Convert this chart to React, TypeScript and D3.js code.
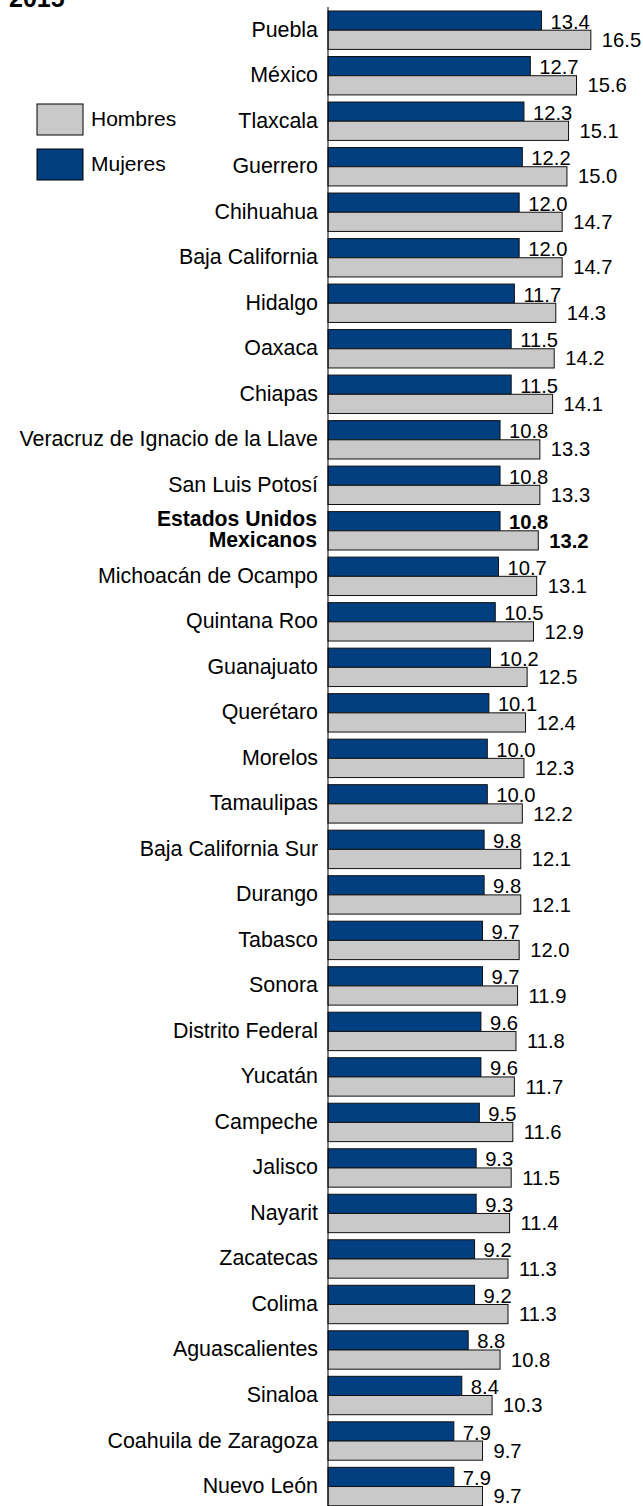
import React from "react";
import * as d3 from "d3";

const categories = [
  "Puebla", "México", "Tlaxcala", "Guerrero", "Chihuahua", "Baja California",
  "Hidalgo", "Oaxaca", "Chiapas", "Veracruz de Ignacio de la Llave", "San Luis Potosí",
  "Estados Unidos Mexicanos", "Michoacán de Ocampo", "Quintana Roo", "Guanajuato",
  "Querétaro", "Morelos", "Tamaulipas", "Baja California Sur", "Durango", "Tabasco",
  "Sonora", "Distrito Federal", "Yucatán", "Campeche", "Jalisco", "Nayarit",
  "Zacatecas", "Colima", "Aguascalientes", "Sinaloa", "Coahuila de Zaragoza", "Nuevo León",
];
const mujeres = [
  13.4, 12.7, 12.3, 12.2, 12.0, 12.0, 11.7, 11.5, 11.5, 10.8, 10.8, 10.8, 10.7, 10.5,
  10.2, 10.1, 10.0, 10.0, 9.8, 9.8, 9.7, 9.7, 9.6, 9.6, 9.5, 9.3, 9.3, 9.2, 9.2, 8.8,
  8.4, 7.9, 7.9,
];
const hombres = [
  16.5, 15.6, 15.1, 15.0, 14.7, 14.7, 14.3, 14.2, 14.1, 13.3, 13.3, 13.2, 13.1, 12.9,
  12.5, 12.4, 12.3, 12.2, 12.1, 12.1, 12.0, 11.9, 11.8, 11.7, 11.6, 11.5, 11.4, 11.3,
  11.3, 10.8, 10.3, 9.7, 9.7,
];
const seriesNames = ["Mujeres", "Hombres"];
const legendItems = ["Hombres", "Mujeres"];
const title = "2015";
const highlight = "Estados Unidos Mexicanos";

const W = 643;
const H = 1506;
const BLUE = "#023f80";
const GRAY = "#c9c9c9";
const FONT = "'Liberation Sans', Arial, Helvetica, sans-serif";

export default function App() {
  const axisX = 328;
  const pxPerUnit = 15.93;
  const x = d3.scaleLinear().domain([0, 16.5]).range([axisX, axisX + 16.5 * pxPerUnit]);
  const step = 45.51;
  const padIn = 1 - 38.4 / step;
  const top = 11;
  const y = d3
    .scaleBand<string>()
    .domain(categories)
    .range([top, top + step * (categories.length - padIn)])
    .paddingInner(padIn)
    .paddingOuter(0);
  const bw = y.bandwidth();
  const inner = d3.scaleBand<string>().domain(seriesNames).range([0, bw]).padding(0);
  const ih = inner.bandwidth();

  const colorOf: Record<string, string> = { Mujeres: BLUE, Hombres: GRAY };

  return (
    <svg
      width={W}
      height={H}
      style={{ position: "absolute", left: 0, top: 0, background: "#fff" }}
      fontFamily={FONT}
    >
      <rect x={0} y={0} width={W} height={H} fill="#fff" />
      <text x={9} y={7} fontSize={25} fontWeight="bold" fill="#000">
        {title}
      </text>

      {/* legend */}
      {legendItems.map((name, i) => {
        const ly = 104 + i * 45;
        return (
          <g key={name}>
            <rect x={37} y={ly} width={46} height={31} fill={colorOf[name]} stroke="#000" strokeWidth={1} />
            <text x={91} y={ly + 22} fontSize={21} fill="#000">
              {name}
            </text>
          </g>
        );
      })}

      {categories.map((cat, i) => {
        const by = y(cat)!;
        const isHL = cat === highlight;
        const vals: Record<string, number> = { Mujeres: mujeres[i], Hombres: hombres[i] };
        const center = by + bw / 2;
        return (
          <g key={cat}>
            {isHL ? (
              <text x={axisX - 11} textAnchor="end" fontSize={21.2} fontWeight="bold" fill="#000">
                <tspan x={axisX - 11} y={center - 5}>Estados Unidos</tspan>
                <tspan x={axisX - 11} y={center + 16}>Mexicanos</tspan>
              </text>
            ) : (
              <text x={axisX - 10} y={center + 6.5} textAnchor="end" fontSize={21.4} fill="#000">
                {cat}
              </text>
            )}
            {seriesNames.map((s) => {
              const sy = by + inner(s)!;
              const v = vals[s];
              return (
                <g key={s}>
                  <rect
                    x={x(0)}
                    y={sy}
                    width={x(v) - x(0)}
                    height={ih}
                    fill={colorOf[s]}
                    stroke="#111"
                    strokeWidth={1}
                  />
                  <text
                    x={x(v) + (s === "Mujeres" ? 9 : 11)}
                    y={s === "Mujeres" ? sy + ih - 1.5 : sy + ih - 2.5}
                    fontSize={20.2}
                    fontWeight={isHL ? "bold" : "normal"}
                    fill="#000"
                  >
                    {v.toFixed(1)}
                  </text>
                </g>
              );
            })}
          </g>
        );
      })}

      <line x1={axisX} x2={axisX} y1={7} y2={H} stroke="#000" strokeWidth={1} />
    </svg>
  );
}
